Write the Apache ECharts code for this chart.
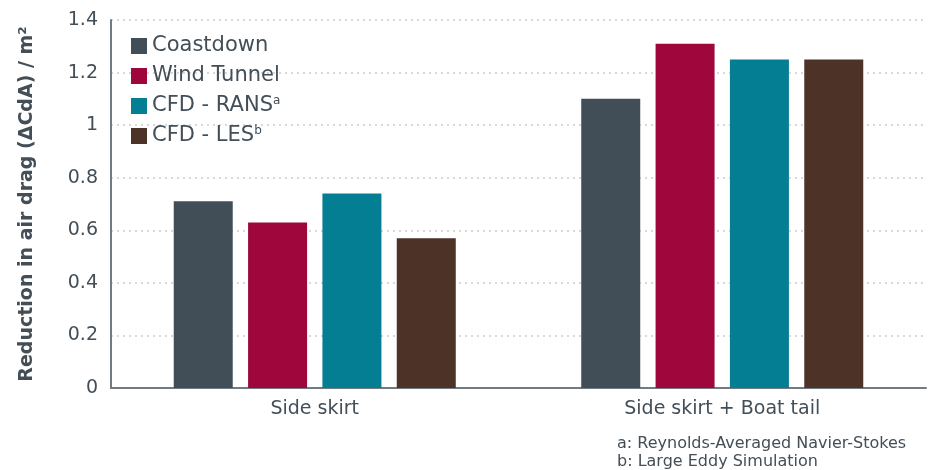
<!DOCTYPE html>
<html><head><meta charset="utf-8">
<script src="https://cdn.jsdelivr.net/npm/echarts@6/dist/echarts.min.js"></script>
<style>html,body{margin:0;padding:0;background:#fff}#c{width:941px;height:470px}</style>
</head><body><div id="c"></div>
<script>
const categories = ['Side skirt', 'Side skirt + Boat tail'];
const seriesNames = ['Coastdown', 'Wind Tunnel', 'CFD - RANS', 'CFD - LES'];
const superscripts = ['', '', 'a', 'b'];
const coastdown = [0.71, 1.10];
const windTunnel = [0.63, 1.31];
const cfdRans = [0.74, 1.25];
const cfdLes = [0.57, 1.25];
const footnotes = ['a: Reynolds-Averaged Navier-Stokes', 'b: Large Eddy Simulation'];
const yTicks = [0, 0.2, 0.4, 0.6, 0.8, 1, 1.2, 1.4];

const colors = ['#414e57', '#9f063c', '#037e93', '#4d3228'];
const values = [coastdown, windTunnel, cfdRans, cfdLes];
const txt = '#434e57';
const font = '"DejaVu Sans", "Open Sans", sans-serif';

const chart = echarts.init(document.getElementById('c'));
chart.setOption({
  animation: false,
  textStyle: { fontFamily: font, color: txt },
  grid: { left: 111, right: 15, top: 20, bottom: 82 },
  legend: {
    orient: 'vertical', left: 131, top: 35, padding: 0, itemWidth: 16, itemHeight: 16, itemGap: 8,
    icon: 'rect',
    data: seriesNames,
    formatter: n => { const i = seriesNames.indexOf(n); return superscripts[i] ? n + '{sup|' + superscripts[i] + '}' : n; },
    textStyle: { fontSize: 21, lineHeight: 22, color: txt, fontFamily: font, padding: [0,0,0,0],
      rich: { sup: { fontSize: 12, lineHeight: 22, verticalAlign: 'top', padding: [0,0,9,0], color: txt, fontFamily: font } } }
  },
  xAxis: {
    type: 'category', data: categories,
    axisLine: { lineStyle: { color: '#737b82', width: 2 } },
    axisTick: { show: false },
    axisLabel: { fontSize: 19, color: txt, margin: 12, fontFamily: font }
  },
  yAxis: {
    type: 'value', min: 0, max: 1.4, interval: 0.2,
    name: 'Reduction in air drag (ΔCdA) / m²', nameLocation: 'middle', nameGap: 74,
    nameTextStyle: { fontSize: 19, fontWeight: 'bold', color: txt, fontFamily: font },
    axisLine: { show: true, lineStyle: { color: '#737b82', width: 2 } },
    axisTick: { show: false },
    axisLabel: { fontSize: 19, color: txt, margin: 13, fontFamily: font,
      formatter: v => yTicks.includes(+v.toFixed(1)) ? String(+v.toFixed(1)) : '' },
    splitLine: { show: true, lineStyle: { color: '#cccccc', type: [2, 4], width: 1.5 } }
  },
  series: seriesNames.map((n, i) => ({
    name: n, type: 'bar', data: values[i], barWidth: 59, barGap: '26%',
    itemStyle: { color: colors[i] }
  })),
  graphic: footnotes.map((t, i) => ({
    type: 'text', left: 617, top: 436 + i * 18,
    style: { text: t, fontSize: 16, fill: txt, fontFamily: font }
  }))
});
</script></body></html>
